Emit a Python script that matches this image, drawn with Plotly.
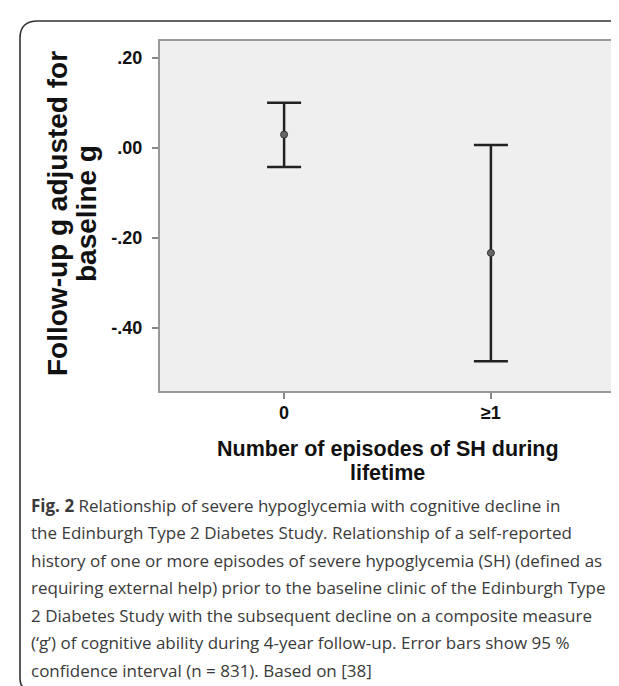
import plotly.graph_objects as go

# ---- data ----
categories = ["0", "≥1"]
means = [0.030, -0.233]
ci_upper = [0.101, 0.007]
ci_lower = [-0.042, -0.474]
y_tickvals = [0.20, 0.00, -0.20, -0.40]
y_ticktext = [".20", ".00", "-.20", "-.40"]

y_title_lines = ["Follow-up g adjusted for", "baseline g"]
x_title_lines = ["Number of episodes of SH during", "lifetime"]

caption_lines = [
    "<b>Fig. 2</b> Relationship of severe hypoglycemia with cognitive decline in",
    "the Edinburgh Type 2 Diabetes Study. Relationship of a self-reported",
    "history of one or more episodes of severe hypoglycemia (SH) (defined as",
    "requiring external help) prior to the baseline clinic of the Edinburgh Type",
    "2 Diabetes Study with the subsequent decline on a composite measure",
    "(‘g’) of cognitive ability during 4-year follow-up. Error bars show 95 %",
    "confidence interval (n = 831). Based on [38]",
]

W, H = 619, 686
px = lambda x: x / W
py = lambda y: 1 - y / H

xs = list(range(len(categories)))
err_plus = [u - m for u, m in zip(ci_upper, means)]
err_minus = [m - l for m, l in zip(means, ci_lower)]

fig = go.Figure()
fig.add_trace(go.Scatter(
    x=xs, y=means, mode="markers",
    marker=dict(symbol="circle", size=7, color="#666666",
                line=dict(color="#333333", width=1)),
    error_y=dict(type="data", symmetric=False, array=err_plus,
                 arrayminus=err_minus, color="#222222", thickness=2.5, width=17),
    showlegend=False, hoverinfo="skip",
))

axis_font = dict(family="Liberation Sans, Arial, sans-serif", size=18, color="#111111")

fig.update_layout(
    width=W, height=H,
    margin=dict(l=0, r=0, t=0, b=0),
    paper_bgcolor="white",
    plot_bgcolor="#efefef",
    xaxis=dict(
        domain=[px(152), px(607)],
        range=[-0.6, 1.6],
        tickvals=xs, ticktext=[f"<b>{c}</b>" for c in categories],
        ticks="outside", ticklen=6, tickwidth=2, tickcolor="#888888",
        tickfont=axis_font, ticklabelstandoff=-2,
        showgrid=False, zeroline=False,
        showline=True, linecolor="#999999", linewidth=2, mirror=True,
    ),
    yaxis=dict(
        domain=[py(383), py(33)],
        range=[-0.54, 0.238],
        tickvals=y_tickvals, ticktext=[f"<b>{t}</b>" for t in y_ticktext],
        ticks="outside", ticklen=6, tickwidth=2, tickcolor="#888888",
        tickfont=axis_font, ticklabelstandoff=6,
        showgrid=False, zeroline=False,
        showline=True, linecolor="#999999", linewidth=2, mirror=True,
    ),
)

# y-axis title (two lines placed individually)
for xc, line in zip([50, 79], y_title_lines):
    fig.add_annotation(
        x=px(xc), y=py(206), xref="paper", yref="paper",
        text=f"<b>{line}</b>", textangle=-90, showarrow=False,
        font=dict(family="Liberation Sans, Arial, sans-serif", size=28, color="#111111"),
        xanchor="center", yanchor="middle",
    )
# x-axis title
for yc, line in zip([441, 465], x_title_lines):
    fig.add_annotation(
        x=px(380), y=py(yc), xref="paper", yref="paper",
        text=f"<b>{line}</b>", showarrow=False,
        font=dict(family="Liberation Sans, Arial, sans-serif", size=21.5, color="#111111"),
        xanchor="center", yanchor="middle",
    )

# caption
cap_font = dict(family="Open Sans, Noto Sans, sans-serif", size=17, color="#3a3a3a")
y0, dy = 497, 27.5
for i, line in enumerate(caption_lines):
    fig.add_annotation(
        x=px(21), y=py(y0 + i * dy), xref="paper", yref="paper",
        text=line, showarrow=False, font=cap_font,
        xanchor="left", yanchor="middle", align="left",
    )

# outer rounded frame
frame_path = (
    f"M {px(30)},{py(685)} Q {px(12)},{py(685)} {px(12)},{py(670)} "
    f"L {px(12)},{py(30)} Q {px(12)},{py(13)} {px(30)},{py(13)} "
    f"L {px(625)},{py(13)}"
)
fig.add_shape(type="path", path=frame_path, xref="paper", yref="paper",
              line=dict(color="#333333", width=1.6))

fig.write_html("out.html")
